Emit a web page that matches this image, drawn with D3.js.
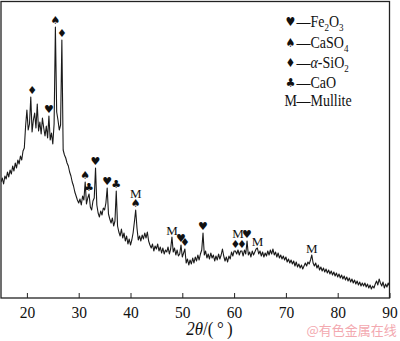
<!DOCTYPE html>
<html>
<head>
<meta charset="utf-8">
<script src="https://cdn.jsdelivr.net/npm/d3@7"></script>
<style>
  html, body { margin: 0; padding: 0; background: #fff; }
  svg { display: block; }
</style>
</head>
<body>
<svg id="chart" width="400" height="341"></svg>
<script>
// XRD pattern: 2θ from 15° to 90° sampled every 0.25°, intensity in arbitrary units
const angleStart = 15;
const angleStep = 0.25;
const intensity = [
  116,120,114,122, 119,126,121,128, 124,132,127,135, 130,138,134,142, 138,147,150,172, // 15-19
  188,168,174,201, 166,178,185,170, 194,167,176,164, 180,170,162,172, 160,182,158,165, // 20-24
  154,174,271,186, 178,168,173,258, 148,143,140,135, 132,126,122,116, 112,106,102,98,  // 25-29
  95,99,93,102,    98,116,94,100,   104,91,88,97,    100,130,93,85,   81,87,83,90,     // 30-34
  88,95,110,84,    79,75,80,72,     77,107,72,66,    62,69,60,65,     57,62,54,59,     // 35-39
  53,58,65,76,     88,70,58,62,     57,63,59,65,     60,66,57,53,     50,54,47,52,     // 40-44
  49,54,47,51,     45,50,44,48,     46,51,44,49,     61,46,50,43,     48,42,44,53,     // 45-49
  41,45,49,35,     39,33,38,34,     40,35,41,37,     43,38,44,48,     65,43,47,40,     // 50-54
  44,39,45,40,     43,37,42,38,     44,39,43,49,     42,37,41,36,     42,39,46,42,     // 55-59
  47,47,44,48,     43,47,47,42,     48,44,57,43,     46,41,47,43,     46,49,50,44,     // 60-64
  47,42,46,41,     45,42,47,43,     48,44,49,43,     46,41,45,40,     43,39,42,38,     // 65-69
  41,36,39,35,     38,34,37,32,     36,31,34,30,     33,29,32,35,     32,36,34,38,     // 70-74
  43,35,32,35,     30,33,28,31,     27,30,26,29,     25,28,24,27,     23,26,22,25,     // 75-79
  21,24,20,23,     19,22,18,21,     17,20,16,19,     15,18,14,17,     13,16,12,15,     // 80-84
  12,15,11,14,     10,13,9,12,      10,14,17,13,     19,15,12,16,     10,14,11,15,     // 85-89
  12                                                                                    // 90
];

const xTicks = [20, 30, 40, 50, 60, 70, 80, 90];

// Phase assignments of the diffraction peaks
const peakAngles  = [21.0, 24.25, 25.5, 26.75, 31.25, 32.0, 33.25, 35.5, 37.25, 41.0, 41.0, 48.0, 49.75, 50.5, 54.0, 60.25, 60.75, 61.5, 62.5, 64.5, 75.0];
const peakSymbols = ["♦", "♥", "♠", "♦", "♠", "♣", "♥", "♥", "♣", "♠", "M", "M", "♥", "♦", "♥", "♦", "M", "♦", "♥", "M", "M"];
const peakStack   = [0, 0, 0, 0, 0, 0, 0, 0, 0, 0, 1, 0, 0, 0, 0, 0, 1, 0, 0, 0, 0];

const legendSymbols = ["♥", "♠", "♦", "♣", "M"];
const legendNames   = ["Fe_2O_3", "CaSO_4", "α-SiO_2", "CaO", "Mullite"];

const data = intensity.map((v, i) => ({ a: angleStart + i * angleStep, v }));

const svg = d3.select("#chart");
const plot = { left: 1, top: 1.5, right: 389.5, bottom: 298 };

const x = d3.scaleLinear().domain([15, 90]).range([plot.left, plot.right]);
const y = d3.scaleLinear().domain([0, 296.5]).range([plot.bottom, plot.top]);

const serif = "'Liberation Serif', 'Times New Roman', serif";
const suitFont = "'DejaVu Sans', sans-serif";
const textStretch = 1.12;   // glyphs are drawn slightly taller than wide

// Stretch a text vertically about its own baseline
function stretchAt(sel, baseX, baseY) {
  sel.attr("x", 0).attr("y", 0)
     .attr("transform", `translate(${baseX},${baseY}) scale(1,${textStretch})`);
}

svg.append("defs").append("clipPath").attr("id", "plotClip")
  .append("rect")
  .attr("x", plot.left).attr("y", plot.top)
  .attr("width", plot.right - plot.left).attr("height", plot.bottom - plot.top);

// Diffraction trace
const line = d3.line().x(d => x(d.a)).y(d => y(d.v));
svg.append("path")
  .datum(data)
  .attr("clip-path", "url(#plotClip)")
  .attr("d", line)
  .attr("fill", "none")
  .attr("stroke", "#1a1a1a")
  .attr("stroke-width", 1.1)
  .attr("stroke-linejoin", "round");

// Bottom axis with inward ticks
const xAxis = d3.axisBottom(x)
  .tickValues(xTicks)
  .tickFormat(d3.format("d"))
  .tickSizeInner(-5)
  .tickSizeOuter(0)
  .tickPadding(9);
const gx = svg.append("g")
  .attr("transform", `translate(0,${plot.bottom})`)
  .call(xAxis);
gx.select(".domain").remove();
gx.selectAll(".tick line").attr("stroke", "#222").attr("stroke-width", 1);
gx.selectAll(".tick text")
  .attr("font-family", serif)
  .attr("font-size", 15.5)
  .attr("fill", "#111")
  .attr("dy", null)
  .each(function () { stretchAt(d3.select(this), 0, 20); });

// Frame
svg.append("rect")
  .attr("x", plot.left).attr("y", plot.top)
  .attr("width", plot.right - plot.left).attr("height", plot.bottom - plot.top)
  .attr("fill", "none")
  .attr("stroke", "#222")
  .attr("stroke-width", 1.3);

// Peak labels placed above the local maximum of the trace
function localPeak(a) {
  let m = -Infinity;
  data.forEach(d => { if (Math.abs(d.a - a) <= 0.3) m = Math.max(m, d.v); });
  return m;
}
const peaks = peakAngles.map((a, i) => ({ a, s: peakSymbols[i], k: peakStack[i] }));
svg.append("g").selectAll("text")
  .data(peaks)
  .join("text")
  .attr("x", d => x(d.a))
  .attr("y", d => {
    const top = y(localPeak(d.a)) - 7 - d.k * 10;
    return d.s === "M" ? top + 4.5 : top + 4;
  })
  .attr("text-anchor", "middle")
  .attr("font-family", d => d.s === "M" ? serif : suitFont)
  .attr("font-size", d => d.s === "M" ? 13 : 11)
  .attr("fill", "#111")
  .text(d => d.s);

// Legend
const legend = svg.append("g");
const rowBase = [27.3, 48.3, 68.3, 88.3, 106];
legendSymbols.forEach((s, i) => {
  const isM = s === "M";
  const sym = legend.append("text")
    .attr("text-anchor", "middle")
    .attr("font-family", isM ? serif : suitFont)
    .attr("font-size", isM ? 14 : 11)
    .attr("fill", "#111")
    .text(s);
  stretchAt(sym, isM ? 290.7 : 290.5, isM ? rowBase[i] : rowBase[i] - 1);

  const t = legend.append("text")
    .attr("font-family", serif)
    .attr("font-size", 14)
    .attr("fill", "#111");
  stretchAt(t, 296.5, rowBase[i]);
  t.append("tspan").text("—");
  let shift = 0;   // pending baseline shift after a subscript
  const parts = legendNames[i].split(/(_\d)/).filter(p => p.length);
  parts.forEach(p => {
    if (p.startsWith("_")) {
      t.append("tspan").attr("font-size", 9).attr("dy", 3).text(p.slice(1));
      shift = -3;
    } else {
      p.split(/(α)/).filter(q => q.length).forEach(q => {
        const ts = t.append("tspan").text(q);
        if (shift) { ts.attr("dy", shift); shift = 0; }
        if (q === "α") ts.attr("font-style", "italic");
      });
    }
  });
});

// Axis title
const title = svg.append("text")
  .attr("text-anchor", "middle")
  .attr("font-family", serif)
  .attr("font-size", 17)
  .attr("fill", "#111");
stretchAt(title, 209.5, 335);
title.append("tspan").attr("font-style", "italic").text("2θ");
title.append("tspan").text("/(\u2009°\u2009)");

// Source mark
svg.append("text")
  .attr("x", 306.5)
  .attr("y", 335)
  .attr("font-family", "'Noto Sans CJK SC', sans-serif")
  .attr("font-size", 13)
  .attr("fill", "#f3a9b0")
  .text("@有色金属在线");
</script>
</body>
</html>
